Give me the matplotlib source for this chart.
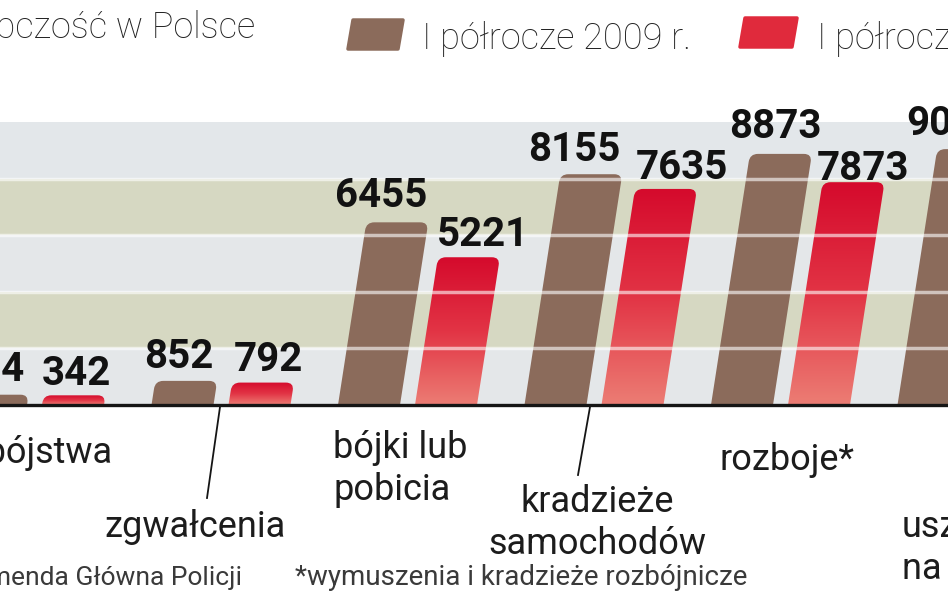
import numpy as np
import matplotlib
matplotlib.use('Agg')
import matplotlib.pyplot as plt
from matplotlib.path import Path
from matplotlib.patches import PathPatch, Polygon
from matplotlib.lines import Line2D
from matplotlib.colors import LinearSegmentedColormap
from matplotlib import font_manager

# ---------------- data ----------------
categories = ['zabójstwa', 'zgwałcenia', 'bójki lub pobicia',
              'kradzieże samochodów', 'rozboje*', 'uszczerbek na zdrowiu']
label_lines = [['zabójstwa'], ['zgwałcenia'], ['bójki lub', 'pobicia'],
               ['kradzieże', 'samochodów'], ['rozboje*'], ['uszczerbek', 'na zdrowiu']]
values_2009 = [364, 852, 6455, 8155, 8873, 9041]
values_2010 = [342, 792, 5221, 7635, 7873, 8320]
series_names = ['I półrocze 2009 r.', 'I półrocze 2010 r.']
title = 'Przestępczość w Polsce'
source = 'Źródło: Komenda Główna Policji'
footnote = '*wymuszenia i kradzieże rozbójnicze'
band_edges = [0, 2000, 4000, 6000, 8000, 10000]

# value-label placement (px offsets from the bar's top centre)
label_dx_2009 = [-7, -7, -16, -17, -6, -16]
label_dy_2009 = [14, 13, 15, 13, 16, 14]
label_dx_2010 = [2, 5, 14, 16, 9, 8]
label_dy_2010 = [10, 12, 11, 10, 2, 10]

# ---------------- setup ----------------
W, H = 948, 593
fig = plt.figure(figsize=(W / 100, H / 100), dpi=100)
fig.patch.set_facecolor('white')


def fx(x):
    return x / W


def fy(y):
    return 1 - y / H


avail = {f.name for f in font_manager.fontManager.ttflist}


def pick(*names):
    for n in names:
        if n in avail:
            return n
    return 'DejaVu Sans'


FONT = pick('Roboto', 'Lato', 'Open Sans', 'DejaVu Sans')

PITCH = 186.5          # px per group
ax = fig.add_axes([0, fy(405), 1, (405 - 122) / H])
ax.set_xlim(35 / PITCH, (W + 35) / PITCH)
ax.set_ylim(band_edges[0], band_edges[-1])
ax.set_autoscale_on(False)
ax.axis('off')

# background bands
band_colors = ['#e4e7e9', '#d6d8c2', '#e4e7e9', '#d6d8c2', '#e3e7ea']
for (lo, hi), c in zip(zip(band_edges[:-1], band_edges[1:]), band_colors):
    ax.axhspan(lo, hi, color=c, lw=0, zorder=0)
for e in band_edges[1:-1]:
    ax.axhline(e, color='white', lw=2.5, alpha=0.6, zorder=5)
ax.axhline(0, color='#151515', lw=2.4, zorder=6, clip_on=False)

BAR_W = 62 / PITCH
RED_OFF = 77 / PITCH
SLANT = 0.155
RADIUS = 8
BROWN = '#8b6b5b'
red_cmap = LinearSegmentedColormap.from_list('redgrad', ['#d50a2c', '#e23445', '#ec7d74'])


def bar_geometry(x0, v):
    T = ax.transData
    bl = T.transform((x0, 0))
    br = T.transform((x0 + BAR_W, 0))
    top_y = T.transform((x0, v))[1]
    h = top_y - bl[1]
    sh = SLANT * h
    tl = np.array([bl[0] + sh, top_y])
    tr = np.array([br[0] + sh, top_y])
    r = min(RADIUS, h * 0.8)
    u = np.array([sh, h])
    u = u / np.hypot(*u)
    verts = [bl, br, tr - r * u, tr, tr - [r, 0], tl + [r, 0], tl, tl - r * u, bl]
    codes = [Path.MOVETO, Path.LINETO, Path.LINETO, Path.CURVE3, Path.CURVE3,
             Path.LINETO, Path.CURVE3, Path.CURVE3, Path.CLOSEPOLY]
    inv = T.inverted()
    data = inv.transform(np.array(verts, dtype=float))
    label_x = inv.transform(((tl[0] + tr[0]) / 2, top_y))[0]
    xmin = inv.transform((bl[0], 0))[0]
    xmax = inv.transform((tr[0], 0))[0]
    return Path(data, codes), label_x, xmin, xmax


def value_label(x, v, dx_px, dy_px):
    ax.annotate(f'{v}', xy=(x, v), xytext=(dx_px * 0.72, dy_px * 0.72),
                textcoords='offset points',
                ha='center', va='baseline', fontsize=29, fontweight='bold',
                family=FONT, color='#121212', annotation_clip=False, zorder=7)


for i, (v09, v10) in enumerate(zip(values_2009, values_2010)):
    # 2009 brown bar
    p, lx, _, _ = bar_geometry(i, v09)
    ax.add_patch(PathPatch(p, facecolor=BROWN, edgecolor='none', zorder=3))
    value_label(lx, v09, label_dx_2009[i], label_dy_2009[i])
    # 2010 red bar with gradient
    p, lx, xmin, xmax = bar_geometry(i + RED_OFF, v10)
    patch = PathPatch(p, facecolor='none', edgecolor='none', zorder=3)
    ax.add_patch(patch)
    grad = np.linspace(0, 1, 256)[:, None]
    im = ax.imshow(grad, cmap=red_cmap, extent=(xmin, xmax, 0, v10),
                   aspect='auto', origin='upper', zorder=3, interpolation='bilinear')
    im.set_clip_path(patch)
    value_label(lx, v10, label_dx_2010[i], label_dy_2010[i])

ax.set_xlim(35 / PITCH, (W + 35) / PITCH)
ax.set_ylim(band_edges[0], band_edges[-1])

# ---------------- category labels ----------------
CAT_FS = 26
CAT_COL = '#1c1c1c'
cat_pos = [  # (x px, first baseline px, ha)
    (112, 463, 'right'),
    (104, 537, 'left'),
    (333, 458, 'left'),
    (597, 512, 'center'),
    (720, 470, 'left'),
    (902, 537, 'left'),
]
LINE_GAP = 42
for lines, (x, y, ha) in zip(label_lines, cat_pos):
    for k, line in enumerate(lines):
        fig.text(fx(x), fy(y + k * LINE_GAP), line, ha=ha, va='baseline',
                 fontsize=CAT_FS, family=FONT, color=CAT_COL)

# leader lines
for (x1, y1, x2, y2) in [(220, 407, 207, 498), (590, 407, 578, 475)]:
    fig.add_artist(Line2D([fx(x1), fx(x2)], [fy(y1), fy(y2)],
                          transform=fig.transFigure, color='#151515', lw=1.3))

# ---------------- title & legend ----------------
fig.text(fx(255), fy(38), title, ha='right', va='baseline', fontsize=26,
         family=FONT, fontweight='light', color='#222222')

legend_specs = [
    (348, 20, 55, 29, BROWN, 422, series_names[0]),
    (740, 18, 57, 29, '#e02a3c', 817, series_names[1]),
]
for (x, y, w, h, col, tx, txt) in legend_specs:
    sl = 5
    poly = Polygon([(fx(x), fy(y + h)), (fx(x + w - sl), fy(y + h)),
                    (fx(x + w), fy(y)), (fx(x + sl), fy(y))],
                   closed=True, transform=fig.transFigure, facecolor=col,
                   edgecolor=col, lw=2.5, joinstyle='round')
    fig.add_artist(poly)
    fig.text(fx(tx), fy(49), txt, ha='left', va='baseline', fontsize=26,
             family=FONT, fontweight='light', color='#222222')

# ---------------- footer ----------------
fig.text(fx(242), fy(585), source, ha='right', va='baseline', fontsize=19,
         family=FONT, color='#3a3a3a')
fig.text(fx(295), fy(585), footnote, ha='left', va='baseline', fontsize=20,
         family=FONT, color='#3a3a3a')

fig.savefig('out.png', dpi=100, facecolor='white')
